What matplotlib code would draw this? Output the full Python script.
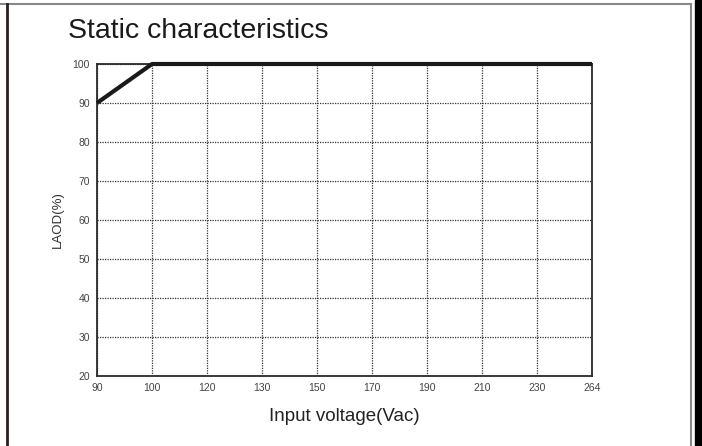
import matplotlib
matplotlib.use('Agg')
import matplotlib.pyplot as plt
from matplotlib.lines import Line2D
from matplotlib.patches import Rectangle

plt.rcParams['font.family'] = ['Liberation Sans', 'DejaVu Sans']

# tick values on the voltage axis (equally spaced on the chart)
volt_ticks = [90, 100, 120, 130, 150, 170, 190, 210, 230, 264]
load_ticks = [20, 30, 40, 50, 60, 70, 80, 90, 100]

# the curve
curve_volt = [90, 100, 264]
curve_load = [90, 100, 100]

fig = plt.figure(figsize=(7.02, 4.46), dpi=100)
W, H = 702, 446
ax = fig.add_axes([97 / W, 1 - 376 / H, (592 - 97) / W, (376 - 64) / H])

xpos = [volt_ticks.index(v) for v in curve_volt]
ax.plot(xpos, curve_load, color='#1a1a1a', lw=3, solid_capstyle='butt', zorder=5, clip_on=False)

ax.set_xlim(0, len(volt_ticks) - 1)
ax.set_ylim(20, 100)
ax.set_xticks(range(len(volt_ticks)))
ax.set_xticklabels([str(v) for v in volt_ticks])
ax.set_yticks(load_ticks)
ax.tick_params(length=0, labelsize=7.5, colors='#444444', pad=5)
ax.grid(True, color='#333333', linestyle=(0, (1, 1)), lw=0.9)

for s in ax.spines.values():
    s.set_color('#2a2a2a')
    s.set_linewidth(1.3)

ax.set_xlabel('Input voltage(Vac)', fontsize=13.5, color='#222222', labelpad=11)
ax.set_ylabel('LAOD(%)', fontsize=9.5, color='#333333', labelpad=6)

fig.text(68 / W, 1 - 31 / H, 'Static characteristics', fontsize=20.5, color='#1a1a1a', va='center', ha='left')

# page frame
fig.add_artist(Line2D([0, 691 / W], [1 - 3.5 / H, 1 - 3.5 / H], transform=fig.transFigure, color='#888888', lw=1.5))
fig.add_artist(Line2D([7 / W, 7 / W], [0, 1 - 3.5 / H], transform=fig.transFigure, color='#2a2020', lw=2))
fig.add_artist(Line2D([690.5 / W, 690.5 / W], [0, 1 - 3.5 / H], transform=fig.transFigure, color='#888888', lw=1.5))
fig.add_artist(Rectangle((695 / W, 0), 7 / W, 1, transform=fig.transFigure, color='black'))

fig.savefig('out.png', dpi=100)
